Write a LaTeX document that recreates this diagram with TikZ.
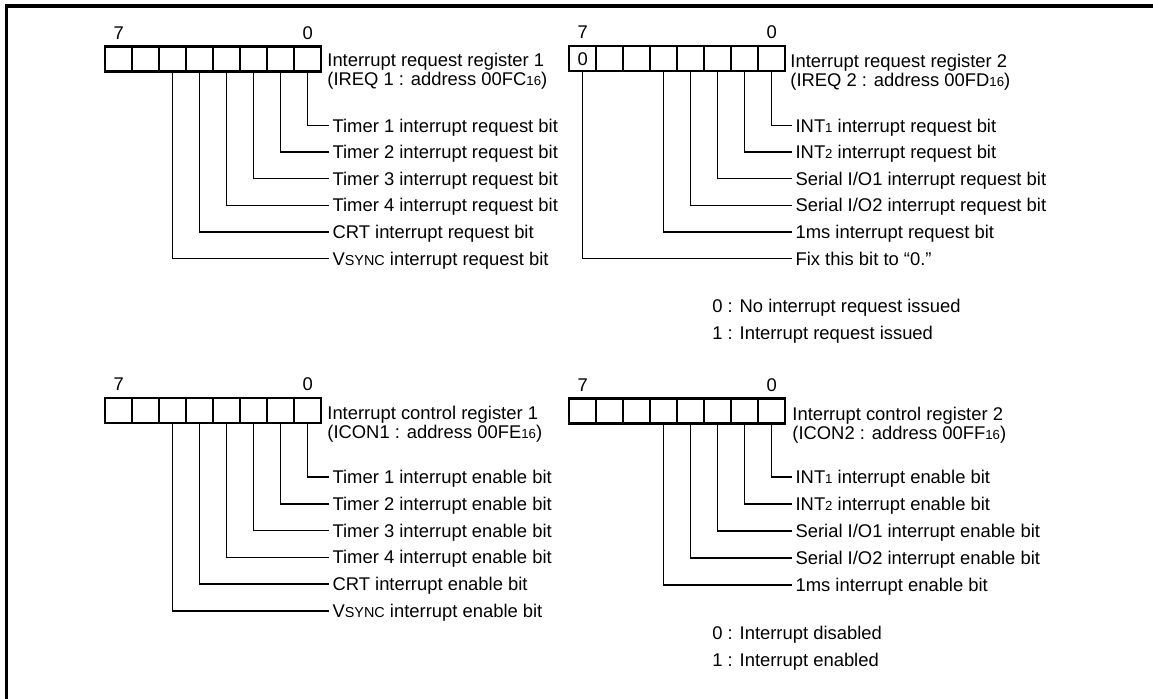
\documentclass[tikz,border=0pt]{standalone}
\usepackage{fontspec}
\setmainfont{Liberation Sans}
\usetikzlibrary{positioning}

\newcommand{\lowsmall}[1]{{\fontsize{6.6}{7}\selectfont #1}}
\newcommand{\fakesc}[1]{{\fontsize{7.2}{7}\selectfont #1}}

\tikzset{
    bitcell/.style={draw,line width=1.2pt,minimum width=13.5pt,minimum height=12.5pt,inner sep=0pt,anchor=north west},
    bitnum/.style={inner sep=0pt,text height=6.6pt,text depth=0pt},
    regname/.style={anchor=north west,align=left,inner sep=0pt},
    bitname/.style={anchor=west,inner xsep=1.6pt,inner ysep=0pt,text height=6.6pt,text depth=0pt},
    leader/.style={line width=0.75pt},
    legend/.style={anchor=west,inner sep=0pt,text height=6.6pt,text depth=0pt}
}

\begin{document}
\begin{tikzpicture}[x=0.5pt,y=-0.5pt,font=\fontsize{9.2}{9.6}\selectfont]
    \useasboundingbox (0,0) rectangle (1153,699);
    \draw[line width=1.6pt] (6.5,699) -- (6.5,6) -- (1153,6);

    % interrupt request register 1
    \foreach \i in {0,...,7}
        \node[bitcell] (ra\i) at ({104+27*(7-\i)},45.5) {};
    \node[bitnum,above=2.8pt of ra7] (ra7n) {7};
    \node[bitnum,above=2.8pt of ra0] (ra0n) {0};
    \node[regname] (raname) at (327,53) {Interrupt request register 1\\(IREQ 1 : address 00FC\lowsmall{16})};
    \foreach \b/\txt in {0/{Timer 1 interrupt request bit},1/{Timer 2 interrupt request bit},2/{Timer 3 interrupt request bit},3/{Timer 4 interrupt request bit},4/{CRT interrupt request bit},5/{V\fakesc{SYNC} interrupt request bit}}{
        \node[bitname] (rat\b) at (329,{125.5+26.6*\b}) {\txt};
        \draw[leader] (ra\b.south) |- (rat\b.west);
    }

    % interrupt request register 2
    \foreach \i in {0,...,7}
        \node[bitcell] (rb\i) at ({568+27*(7-\i)},45) {};
    \node[inner sep=0pt] (rbfix) at (rb7) {0};
    \node[bitnum,above=2.8pt of rb7] (rb7n) {7};
    \node[bitnum,above=2.8pt of rb0] (rb0n) {0};
    \node[regname] (rbname) at (790,54) {Interrupt request register 2\\(IREQ 2 : address 00FD\lowsmall{16})};
    \foreach \b/\r/\txt in {0/0/{INT\lowsmall{1} interrupt request bit},1/1/{INT\lowsmall{2} interrupt request bit},2/2/{Serial I/O1 interrupt request bit},3/3/{Serial I/O2 interrupt request bit},4/4/{1ms interrupt request bit},7/5/{Fix this bit to “0.”}}{
        \node[bitname] (rbt\b) at (792,{125.5+26.6*\r}) {\txt};
        \draw[leader] (rb\b.south) |- (rbt\b.west);
    }
    \node[legend] (rbkey0) at (712,305.5) {0 : No interrupt request issued};
    \node[legend,below=13.75pt of rbkey0.west,anchor=west] (rbkey1) {1 : Interrupt request issued};

    % interrupt control register 1
    \foreach \i in {0,...,7}
        \node[bitcell] (rc\i) at ({104+27*(7-\i)},397) {};
    \node[bitnum,above=2.8pt of rc7] (rc7n) {7};
    \node[bitnum,above=2.8pt of rc0] (rc0n) {0};
    \node[regname] (rcname) at (327,406) {Interrupt control register 1\\(ICON1 : address 00FE\lowsmall{16})};
    \foreach \b/\txt in {0/{Timer 1 interrupt enable bit},1/{Timer 2 interrupt enable bit},2/{Timer 3 interrupt enable bit},3/{Timer 4 interrupt enable bit},4/{CRT interrupt enable bit},5/{V\fakesc{SYNC} interrupt enable bit}}{
        \node[bitname] (rct\b) at (329,{477+26.8*\b}) {\txt};
        \draw[leader] (rc\b.south) |- (rct\b.west);
    }

    % interrupt control register 2
    \foreach \i in {0,...,7}
        \node[bitcell] (rd\i) at ({568+27*(7-\i)},397.5) {};
    \node[bitnum,above=2.8pt of rd7] (rd7n) {7};
    \node[bitnum,above=2.8pt of rd0] (rd0n) {0};
    \node[regname] (rdname) at (792,407) {Interrupt control register 2\\(ICON2 : address 00FF\lowsmall{16})};
    \foreach \b/\txt in {0/{INT\lowsmall{1} interrupt enable bit},1/{INT\lowsmall{2} interrupt enable bit},2/{Serial I/O1 interrupt enable bit},3/{Serial I/O2 interrupt enable bit},4/{1ms interrupt enable bit}}{
        \node[bitname] (rdt\b) at (792,{477+27*\b}) {\txt};
        \draw[leader] (rd\b.south) |- (rdt\b.west);
    }
    \node[legend] (rdkey0) at (712,633) {0 : Interrupt disabled};
    \node[legend,below=13.4pt of rdkey0.west,anchor=west] (rdkey1) {1 : Interrupt enabled};
\end{tikzpicture}
\end{document}
